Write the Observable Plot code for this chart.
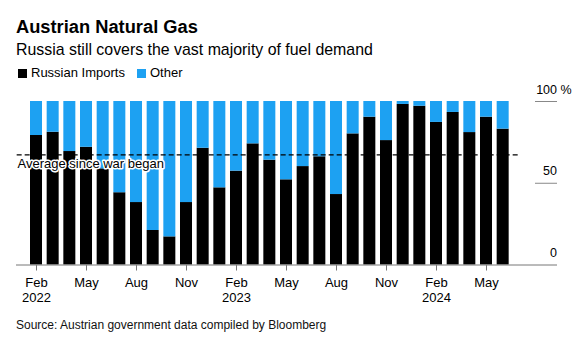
<!DOCTYPE html>
<html>
<head>
<meta charset="utf-8">
<script src="https://cdn.jsdelivr.net/npm/d3@7"></script>
<script src="https://cdn.jsdelivr.net/npm/@observablehq/plot@0.6"></script>
<style>
  html, body { margin: 0; padding: 0; background: #fff; }
  #wrap { position: relative; width: 575px; height: 343px; background: #fff; font-family: "Liberation Sans", Arial, sans-serif; color: #000; overflow: hidden; }
  .abs { position: absolute; white-space: nowrap; }
  .title { left: 16px; top: 17.6px; font-weight: bold; font-size: 18.3px; line-height: 18.3px; }
  .sub { left: 16px; top: 41.6px; font-size: 15.9px; line-height: 15.9px; }
  .leg { font-size: 13px; line-height: 13px; top: 66.3px; }
  .sw { width: 9px; height: 9px; top: 69px; }
  .cap { left: 16px; top: 319.1px; font-size: 12px; line-height: 12px; color: #111; }
  #chart { left: 0; top: 85px; }
</style>
</head>
<body>
<div id="wrap">
  <div class="abs title">Austrian Natural Gas</div>
  <div class="abs sub">Russia still covers the vast majority of fuel demand</div>
  <div class="abs sw" style="left:18px;background:#000"></div>
  <div class="abs leg" style="left:31px">Russian Imports</div>
  <div class="abs sw" style="left:137px;background:#1da1f2"></div>
  <div class="abs leg" style="left:150px">Other</div>
  <div class="abs" id="chart"></div>
  <div class="abs cap">Source: Austrian government data compiled by Bloomberg</div>
</div>
<script>
const months = [
  "2022-02","2022-03","2022-04","2022-05","2022-06","2022-07","2022-08","2022-09","2022-10","2022-11","2022-12",
  "2023-01","2023-02","2023-03","2023-04","2023-05","2023-06","2023-07","2023-08","2023-09","2023-10","2023-11","2023-12",
  "2024-01","2024-02","2024-03","2024-04","2024-05","2024-06"
];
const russianShare = [
  79.2, 81.2, 69.4, 72.0, 58.8, 44.2, 38.2, 21.1, 17.2, 38.2, 71.4,
  47.2, 57.4, 74.1, 64.1, 52.1, 60.2, 66.2, 43.1, 80.2, 90.4, 76.1, 98.2,
  97.1, 87.2, 93.3, 81.0, 90.4, 83.1
];
const otherShare = [
  20.8, 18.8, 30.6, 28.0, 41.2, 55.8, 61.8, 78.9, 82.8, 61.8, 28.6,
  52.8, 42.6, 25.9, 35.9, 47.9, 39.8, 33.8, 56.9, 19.8, 9.6, 23.9, 1.8,
  2.9, 12.8, 6.7, 19.0, 9.6, 16.9
];
const seriesNames = ["Russian Imports", "Other"];
const seriesColors = ["#000000", "#1da1f2"];
const averageSinceWar = 67.4;
const averageLabel = "Average since war began";
const tickMonths = ["2022-02","2022-05","2022-08","2022-11","2023-02","2023-05","2023-08","2023-11","2024-02","2024-05"];
const tickLabels = ["Feb\n2022","May","Aug","Nov","Feb\n2023","May","Aug","Nov","Feb\n2024","May"];
const yTicks = [0, 50, 100];

const rows = [];
months.forEach((m, i) => {
  rows.push({month: m, series: seriesNames[0], value: russianShare[i]});
});
months.forEach((m, i) => {
  rows.push({month: m, series: seriesNames[1], value: otherShare[i]});
});
const tickLabelMap = new Map(tickMonths.map((m, i) => [m, tickLabels[i]]));

const chart = Plot.plot({
  width: 575,
  height: 225,
  marginTop: 16,
  marginBottom: 45.5,
  marginLeft: 27.67,
  marginRight: 64,
  style: {fontFamily: "'Liberation Sans', Arial, sans-serif", background: "transparent", overflow: "visible", color: "#000"},
  x: {type: "band", domain: months, paddingInner: 0.28, paddingOuter: 0.14, round: false, label: null},
  y: {domain: [0, 100], axis: null},
  color: {domain: seriesNames, range: seriesColors},
  marks: [
    Plot.barY(rows, Plot.stackY({x: "month", y: "value", fill: "series", order: seriesNames})),
    Plot.ruleY([0], {y: d => d, stroke: "#777", insetLeft: -11.67, insetRight: -46}),
    Plot.ruleY([50, 100], {y: d => d, stroke: "#888", insetLeft: 507.33, insetRight: -46}),
    Plot.text(yTicks, {y: d => d, text: d => String(d), frameAnchor: "right", textAnchor: "end", lineAnchor: "bottom", dx: 45.5, dy: -8, fontSize: 12.5, fill: "#000"}),
    Plot.text([100], {y: d => d, text: () => "%", frameAnchor: "right", textAnchor: "start", lineAnchor: "bottom", dx: 49, dy: -8, fontSize: 12.5, fill: "#000"}),
    Plot.ruleY([averageSinceWar], {y: d => d, stroke: "#000", strokeDasharray: "5,3", strokeWidth: 1.2, insetLeft: -11, insetRight: -8}),
    Plot.text([averageSinceWar], {y: d => d, text: () => averageLabel, frameAnchor: "left", textAnchor: "start", lineAnchor: "bottom", dx: -10.7, dy: 13.4, fontSize: 13, fill: "#000", stroke: "#fff", strokeWidth: 3}),
    Plot.axisX({ticks: tickMonths, tickFormat: d => tickLabelMap.get(d), tickSize: 6, tickPadding: 5.6, fontSize: 13, lineHeight: 1.15, stroke: "#777", fill: "#000", label: null})
  ]
});
document.getElementById("chart").appendChild(chart);
</script>
</body>
</html>
